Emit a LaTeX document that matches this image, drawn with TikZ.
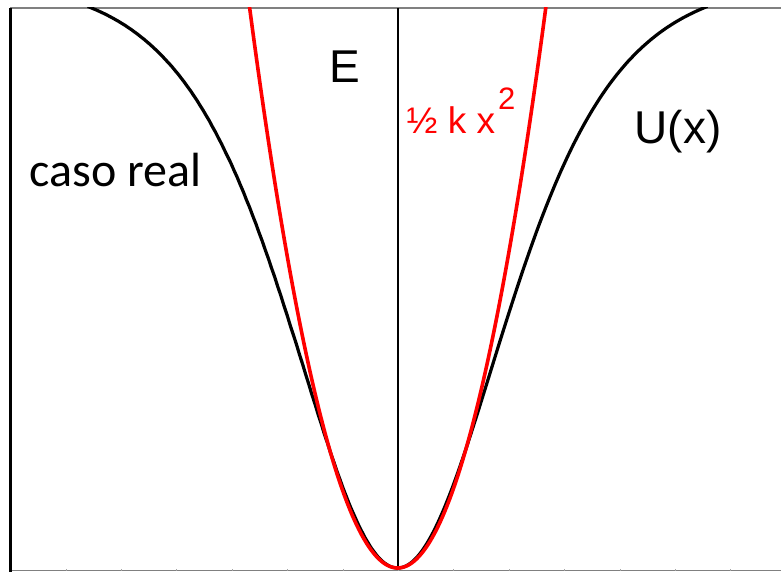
\documentclass[tikz,border=0pt]{standalone}
\usepackage{fontspec}
\newfontfamily\arialf{Liberation Sans}
\newfontfamily\calibrif{Carlito}
\definecolor{axisgray}{RGB}{128,128,128}
\begin{document}
\begin{tikzpicture}[x=1pt,y=-1pt,
  lbl/.style={inner sep=0pt,anchor=base west},
  axisline/.style={axisgray,line width=1.5pt},
  curveblack/.style={black,line width=3.2pt,line join=round},
  curvered/.style={red,line width=3.6pt,line join=round}]
\useasboundingbox (0,0) rectangle (781,572);
\fill[white] (0,0) rectangle (781,572);
% frame lines
\draw[axisline] (10,8) -- (781,8);
\draw[axisline] (10,570.5) -- (781,570.5);
\foreach \t in {0,...,13} {
  \draw[axisgray!70,line width=0.8pt] ({10.6+55.4*\t},570.5) -- ({10.6+55.4*\t},569.3);
}
\draw[black,line width=2.7pt] (10.5,8) -- (10.5,571.5);
\draw[black,line width=2.2pt] (397.7,8) -- (397.7,569);
% curves
\begin{scope}
\clip (10,8) rectangle (781,572);
\draw[curveblack] plot[domain=-3.1:3.1,samples=200,smooth]
  ({397.7+100*\x},{568-590*tanh(100*\x/141)^2});
\draw[curvered] plot[domain=-1.49:1.49,samples=120,smooth]
  ({397.7+100*\x},{568-255.5*\x*\x});
\end{scope}
% labels
\node[lbl,font=\calibrif\fontsize{48}{48}\selectfont] (caso) at (29.3,186.7) {caso real};
\node[lbl,font=\arialf\fontsize{46}{46}\selectfont] (E) at (329.4,83) {E};
\node[lbl,red,font=\arialf\fontsize{37}{37}\selectfont] (half) at (406.5,133.3) {½ k x};
\node[lbl,red,font=\arialf\fontsize{31}{31}\selectfont] (sq) at (498,109.3) {2};
\node[lbl,font=\arialf\fontsize{46}{46}\selectfont] (U) at (634.3,144) {U(x)};
\end{tikzpicture}
\end{document}
